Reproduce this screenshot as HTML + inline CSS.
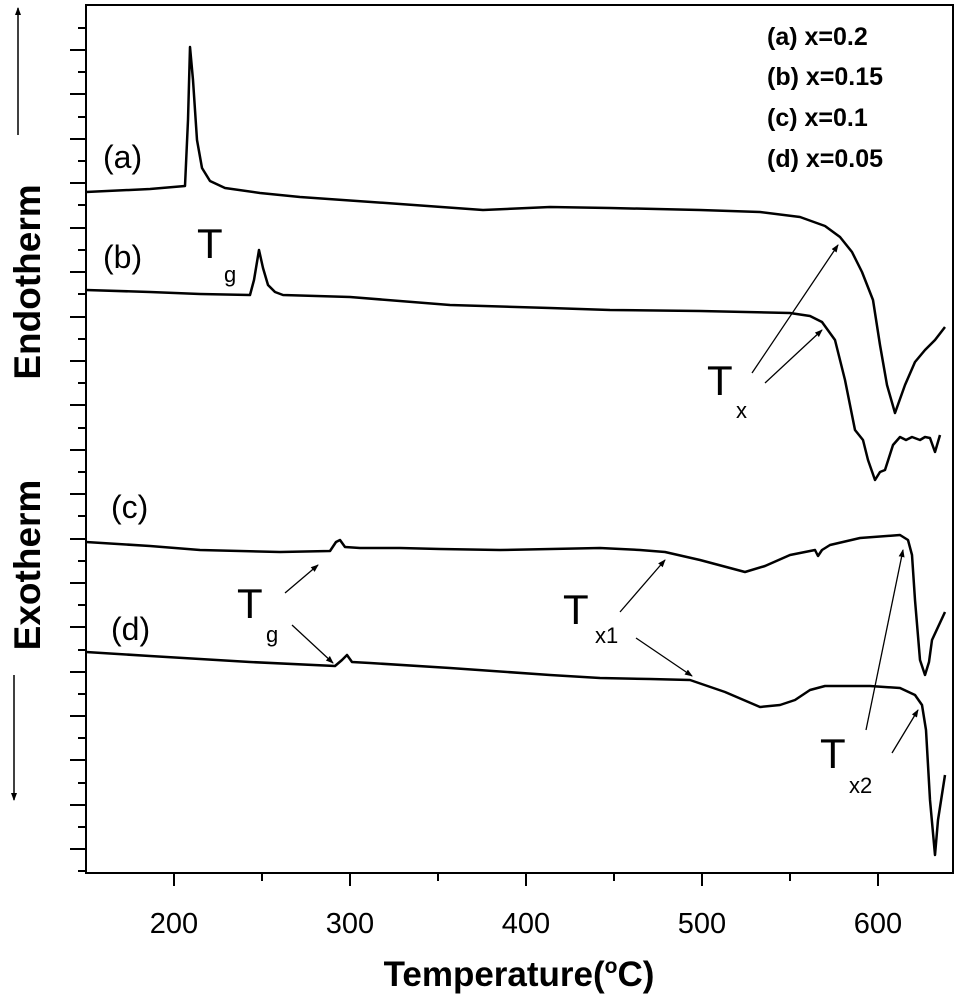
<!DOCTYPE html>
<html><head><meta charset="utf-8"><style>
html,body{margin:0;padding:0;background:#fff;}
svg{display:block;}
text{font-family:"Liberation Sans",Arial,sans-serif;fill:#000;}
</style></head><body>
<svg width="958" height="1000" viewBox="0 0 958 1000" xmlns="http://www.w3.org/2000/svg">
<defs>
<marker id="ah" markerWidth="8" markerHeight="8" refX="7" refY="4" orient="auto" markerUnits="userSpaceOnUse">
<path d="M0,1 L8,4 L0,7 z" fill="#000"/></marker>
</defs>
<rect x="86" y="5" width="867" height="868" fill="none" stroke="#000" stroke-width="2"/>
<g stroke="#000" stroke-width="2">
<path d="M70,50H86M70,94H86M70,139H86M70,183H86M70,228H86M70,272H86M70,317H86M70,361H86M70,405H86M70,450H86M70,494H86M70,539H86M70,583H86M70,627H86M70,672H86M70,716H86M70,760H86M70,805H86M70,849H86"/>
<path d="M78,28H86M78,72H86M78,117H86M78,161H86M78,205H86M78,250H86M78,294H86M78,339H86M78,383H86M78,428H86M78,472H86M78,516H86M78,561H86M78,605H86M78,650H86M78,694H86M78,738H86M78,783H86M78,827H86M78,871H86"/>
<path d="M174,873V886M350,873V886M526,873V886M702,873V886M878,873V886"/>
<path d="M262,873V881M438,873V881M614,873V881M790,873V881"/>
</g>
<g font-size="29" text-anchor="middle">
<text x="174" y="933">200</text><text x="350" y="933">300</text><text x="526" y="933">400</text><text x="702" y="933">500</text><text x="878" y="933">600</text>
</g>
<text x="519" y="986" font-size="35" font-weight="bold" text-anchor="middle">Temperature(<tspan font-size="21" dy="-13">o</tspan><tspan dy="13">C)</tspan></text>
<text transform="translate(40,282) rotate(-90)" font-size="37" font-weight="bold" text-anchor="middle">Endotherm</text>
<text transform="translate(40,565) rotate(-90)" font-size="37" font-weight="bold" text-anchor="middle">Exotherm</text>
<line x1="18" y1="135" x2="18" y2="8" stroke="#000" stroke-width="1.5" marker-end="url(#ah)"/>
<line x1="14" y1="675" x2="14" y2="800" stroke="#000" stroke-width="1.5" marker-end="url(#ah)"/>
<g font-size="25" font-weight="bold">
<text x="767" y="45">(a) x=0.2</text>
<text x="767" y="85">(b) x=0.15</text>
<text x="767" y="126">(c) x=0.1</text>
<text x="767" y="167">(d) x=0.05</text>
</g>
<g fill="none" stroke="#000" stroke-width="2.5" stroke-linejoin="round">
<path d="M86,192 L150,189 L185,186 L188,120 L190,47 L193,80 L197,140 L202,168 L210,181 L225,188 L260,193 L300,197 L400,204 L483,210 L550,207 L610,208 L700,210 L760,212 L800,217 L825,226 L840,237 L852,252 L862,272 L873,300 L880,345 L887,385 L895,413 L905,385 L915,362 L925,350 L935,340 L945,327"/>
<path d="M86,290 L150,292 L200,294 L250,295 L254,280 L259,250 L263,268 L268,285 L275,292 L283,295 L350,297 L450,305 L550,308 L610,310 L700,311 L790,313 L810,316 L822,322 L835,340 L845,380 L855,430 L863,440 L868,460 L875,480 L880,472 L885,470 L893,445 L900,437 L906,440 L912,437 L920,440 L925,437 L930,438 L935,452 L940,435"/>
<path d="M86,542 L150,546 L200,550 L280,552 L330,551 L336,542 L340,540 L345,547 L360,548 L400,548 L440,549 L500,550 L600,548 L640,550 L665,552 L700,560 L745,572 L765,566 L790,555 L815,550 L818,556 L822,550 L830,545 L860,538 L900,535 L908,540 L912,555 L915,600 L920,660 L925,675 L929,662 L932,640 L945,612"/>
<path d="M86,652 L150,656 L250,662 L335,666 L342,660 L347,655 L352,662 L370,663 L450,668 L550,675 L600,678 L650,679 L690,680 L725,692 L760,707 L780,705 L795,700 L810,690 L825,686 L870,686 L900,688 L915,695 L922,705 L926,730 L930,800 L935,855 L938,820 L945,775"/>
</g>
<g stroke="#000" stroke-width="1.3" marker-end="url(#ah)">
<line x1="752" y1="373" x2="838" y2="245"/>
<line x1="765" y1="383" x2="822" y2="330"/>
<line x1="285" y1="593" x2="318" y2="565"/>
<line x1="292" y1="625" x2="333" y2="663"/>
<line x1="620" y1="612" x2="665" y2="560"/>
<line x1="636" y1="638" x2="692" y2="676"/>
<line x1="866" y1="730" x2="903" y2="550"/>
<line x1="892" y1="753" x2="918" y2="710"/>
</g>
<g font-size="32">
<text x="103" y="168">(a)</text>
<text x="103" y="268">(b)</text>
<text x="111" y="518">(c)</text>
<text x="111" y="640">(d)</text>
</g>
<g font-size="42">
<text x="197" y="258">T</text>
<text x="707" y="395">T</text>
<text x="237" y="618">T</text>
<text x="563" y="624">T</text>
<text x="820" y="768">T</text>
</g>
<g font-size="22">
<text x="224" y="282">g</text>
<text x="736" y="418">x</text>
<text x="266" y="642">g</text>
<text x="595" y="643">x1</text>
<text x="849" y="793">x2</text>
</g>
</svg>
</body></html>
